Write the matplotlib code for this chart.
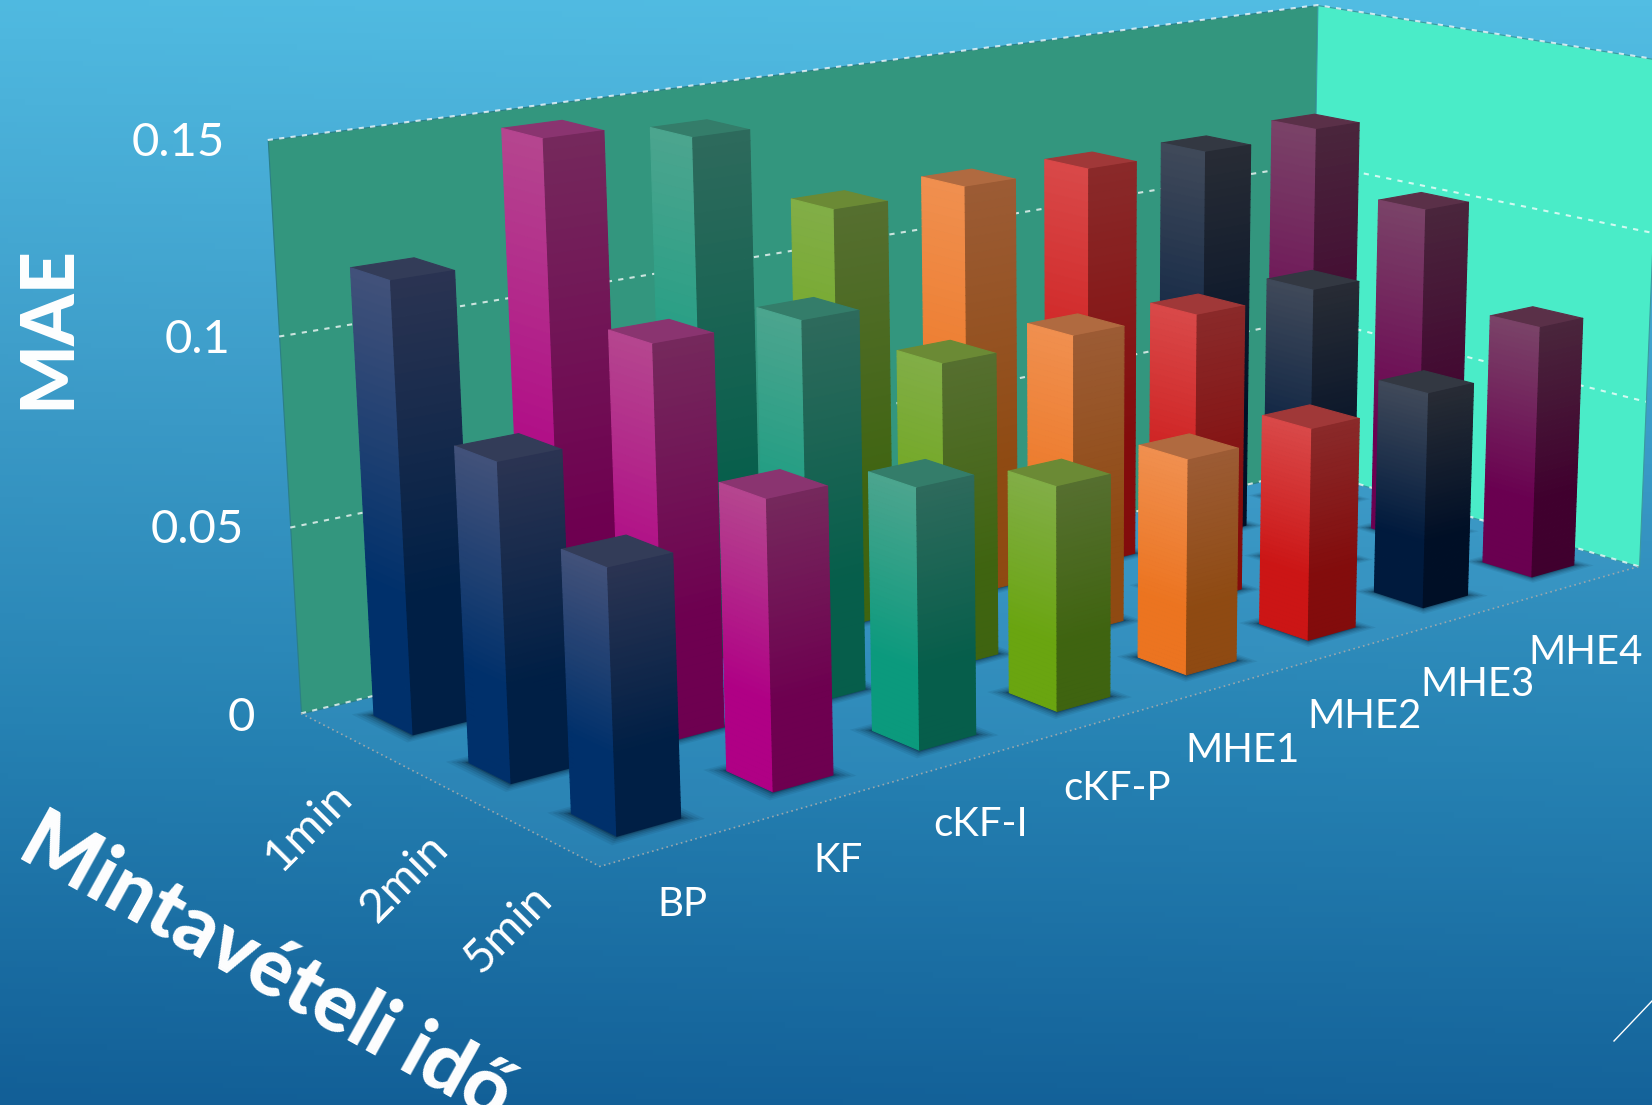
import numpy as np
import matplotlib
matplotlib.use("Agg")
import matplotlib.pyplot as plt
from matplotlib.lines import Line2D
from matplotlib.colors import LinearSegmentedColormap, to_rgb
from mpl_toolkits.mplot3d.art3d import Poly3DCollection

W, H = 1652, 1105
plt.rcParams['font.family'] = ['Lato', 'DejaVu Sans']

methods = ['BP', 'KF', 'cKF-I', 'cKF-P', 'MHE1', 'MHE2', 'MHE3', 'MHE4']
sampling = ['1min', '2min', '5min']
mae_1min = [0.118, 0.148, 0.143, 0.118, 0.1185, 0.118, 0.1175, 0.119]
mae_2min = [0.0815, 0.1035, 0.1025, 0.084, 0.0845, 0.0835, 0.084, 0.1015]
mae_5min = [0.066, 0.074, 0.0685, 0.0605, 0.0595, 0.060, 0.0625, 0.0745]
z_ticks = [0, 0.05, 0.1, 0.15]
z_tick_labels = ['0', '0.05', '0.1', '0.15']

# face colours per method: left-low, right-low, left-top, right-top, cap
palette = [
    ('#00306b', '#001f45', '#43527a', '#2b3452', '#333c58'),
    ('#b00085', '#6e0050', '#b5478f', '#75295c', '#8a3470'),
    ('#0b9a7d', '#065e4b', '#4da58f', '#2e6a5c', '#347d6a'),
    ('#6aa510', '#3f6410', '#82ae48', '#566f30', '#6b8a35'),
    ('#ec7420', '#8f4a12', '#f09050', '#9c5c35', '#b06a40'),
    ('#cc1515', '#830c0c', '#d94a4a', '#8a2a2a', '#a03838'),
    ('#001a3d', '#000f26', '#414a5a', '#282c35', '#333842'),
    ('#6a0050', '#40002e', '#7a4468', '#4a263c', '#5a3048'),
]

fig = plt.figure(figsize=(W / 100, H / 100), dpi=100)

# background gradient
bg = fig.add_axes([0, 0, 1, 1], zorder=-1)
bg.set_axis_off()
cm = LinearSegmentedColormap.from_list('bg', ['#52bde3', '#3f9fcb', '#2682b3', '#125f97'])
gy, gx = np.mgrid[0:1:200j, 0:1:200j]
bg.imshow(gy - 0.04 * gx, cmap=cm, aspect='auto', extent=(0, 1, 0, 1), vmin=-0.04, vmax=1)

# 3D axes: a square that covers the whole figure
ax = fig.add_axes([0, -(W / H - 1) / 2, 1, W / H], projection='3d', zorder=1)
ax.set_axis_off()
ax.patch.set_alpha(0)
ax.computed_zorder = False
ax.apply_aspect()

# camera fitted to the box corners as seen in the picture (x, y, z) -> pixel
box_world = [(0, 3, 0), (0, 0, 0), (8, 3, 0), (8, 0, 0),
             (0, 3, .15), (8, 3, .15), (8, 0, .15), (0, 3, .05), (0, 3, .1)]
box_pixel = [(300, 713), (600, 867), (1312, 470), (1637, 566),
             (268, 140), (1315, 5), (1662, 60), (290, 527), (280, 337)]
rows = []
for (x, y, z), (u, v) in zip(box_world, box_pixel):
    v = H - v
    p = [x, y, z * 10, 1]
    rows.append(p + [0, 0, 0, 0] + [-u * c for c in p])
    rows.append([0, 0, 0, 0] + p + [-v * c for c in p])
P = np.linalg.svd(np.array(rows, float))[2][-1].reshape(3, 4)
P[:, 2] *= 10
if P[2] @ np.array([0, 0, 0, 1]) < 0:
    P = -P
A = ax.transData.get_affine().get_matrix()
Q = np.linalg.inv(A) @ P
M = np.array([Q[0], Q[1], [0, 0, 0, -1.0], Q[2]])
ax.get_proj = lambda: M


def depth(x, y, z=0):
    return P[2] @ np.array([x, y, z, 1])


def poly(verts, color, zo, **kw):
    c = Poly3DCollection([verts], facecolors=color, zorder=zo, linewidths=kw.pop('lw', 0), **kw)
    ax.add_collection3d(c)
    return c


ZT = 0.15
# walls and floor
poly([(0, 0, 0), (8, 0, 0), (8, 3, 0), (0, 3, 0)], (0.30, 0.65, 0.82, 0.22), 1)
poly([(0, 3, 0), (8, 3, 0), (8, 3, ZT), (0, 3, ZT)], '#33967e', 2, edgecolors='#2b7f86', lw=0.8)
poly([(8, 3, 0), (8, 0, 0), (8, 0, ZT), (8, 3, ZT)], '#4aecc8', 2, edgecolors='#3a9aa0', lw=0.8)

# gridlines
for t in z_ticks:
    ax.plot([0, 8, 8], [3, 3, 0], [t, t, t], color='white', lw=1.5, ls=(0, (2.5, 3)),
            alpha=0.75, zorder=3)
ax.plot([0, 0, 8], [3, 0, 0], [0, 0, 0], color='#9aa7ad', lw=1.2, ls=(0, (1, 2)), zorder=3)

dx, dy = 0.40, 0.42
N = 50
rows_data = [mae_1min, mae_2min, mae_5min]
bars = []
for r, vals in enumerate(rows_data):
    for c, v in enumerate(vals):
        bars.append((c + 0.5, 2.5 - r, v, c))
bars.sort(key=lambda b: -depth(b[0], b[1]))
none = (0, 0, 0, 0)
for i, (xc, yc, v, c) in enumerate(bars):
    x0, y0 = xc - dx / 2, yc - dy / 2
    # contact shadow
    for g, al in ((0.09, .08), (0.07, .10), (0.05, .14), (0.03, .20), (0.015, .30)):
        poly([(x0 - g, y0 - g, 0), (x0 + dx + g, y0 - g, 0), (x0 + dx + g, y0 + dy + g, 0),
              (x0 - g, y0 + dy + g, 0)], (0.02, 0.10, 0.18, al), 10 + i * 2)
    ll, rl, lt, rt, cap = [np.array(to_rgb(k)) for k in palette[c]]
    edges = np.linspace(0, v, N + 1)
    cols = []
    for k in range(N):
        # light at the top, the plain colour from about 30 % of the height downward
        f = np.clip((edges[k] / v - 0.30) / 0.70, 0, 1)
        left = tuple(ll + (lt - ll) * f) + (1,)
        right = tuple(rl + (rt - rl) * f) + (1,)
        top = tuple(cap) + (1,) if k == N - 1 else none
        cols += [none, top, right, none, left, none]
    ax.bar3d([x0] * N, [y0] * N, edges[:-1], dx, dy, np.diff(edges), color=cols, shade=False,
             edgecolor=cols, linewidth=0.8, zorder=11 + i * 2)


def label(x, y, s, size, **kw):
    fig.text(x / W, 1 - y / H, s, fontsize=size, color='white', ha='center', va='center', **kw)


for s, (x, y) in zip(z_tick_labels, [(241, 718), (197, 530), (198, 340), (178, 143)]):
    label(x, y, s, 34)
for s, (x, y) in zip(methods, [(682, 904), (838, 860), (981, 825), (1117, 788),
                               (1243, 751), (1365, 716), (1478, 684), (1586, 653)]):
    label(x, y, s, 29)
for s, (x, y) in zip(sampling, [(308, 827), (404, 878), (508, 929)]):
    label(x, y, s, 34, rotation=45, rotation_mode='anchor')
label(48, 327, 'MAE', 53, rotation=90, fontweight='black', rotation_mode='anchor')
label(267, 968, 'Mintavételi idő', 58, rotation=-29, fontweight='black', rotation_mode='anchor')
fig.add_artist(Line2D([1614 / W, 1652 / W], [1 - 1041 / H, 1 - 1001 / H], color='white', lw=1))

fig.savefig('out.png', dpi=100)
